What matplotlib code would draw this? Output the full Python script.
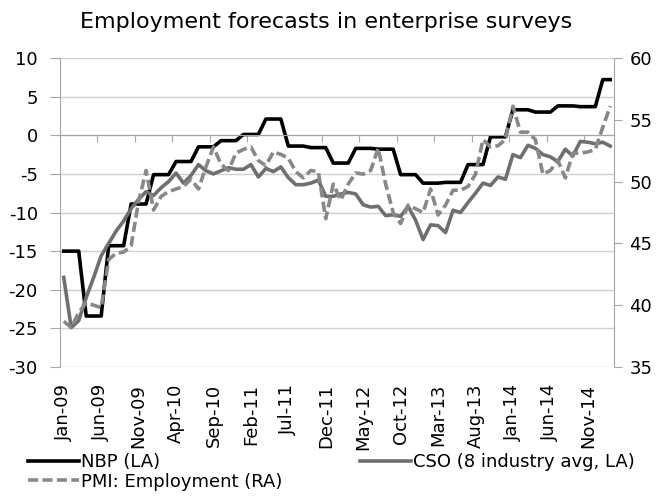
import numpy as np
import pandas as pd
import matplotlib
matplotlib.use("Agg")
import matplotlib.pyplot as plt

plt.rcParams['font.family'] = ['DejaVu Sans']
plt.rcParams['axes.unicode_minus'] = False

# monthly, Jan-09 .. Feb-15
months = pd.date_range('2009-01-01', periods=74, freq='MS').strftime('%b-%y')

# NBP quarterly survey, held for each month of the quarter (left axis)
nbp = [-15.0, -15.0, -15.0, -23.4, -23.4, -23.4, -14.3, -14.3, -14.3,
       -8.9, -8.9, -8.9, -5.1, -5.1, -5.1, -3.4, -3.4, -3.4,
       -1.5, -1.5, -1.5, -0.7, -0.7, -0.7, 0.1, 0.1, 0.1,
       2.1, 2.1, 2.1, -1.4, -1.4, -1.4, -1.6, -1.6, -1.6,
       -3.6, -3.6, -3.6, -1.7, -1.7, -1.7, -1.8, -1.8, -1.8,
       -5.1, -5.1, -5.1, -6.2, -6.2, -6.2, -6.1, -6.1, -6.1,
       -3.8, -3.8, -3.8, -0.2, -0.2, -0.2, 3.3, 3.3, 3.3,
       3.0, 3.0, 3.0, 3.8, 3.8, 3.8, 3.7, 3.7, 3.7,
       7.2, 7.2]

# CSO, average of 8 industries (left axis)
cso = [-18.4, -24.9, -24.0, -21.0, -18.4, -15.6, -14.0, -12.4, -11.1, -9.5,
       -8.3, -7.3, -7.8, -6.8, -6.0, -4.9, -6.2, -5.2, -3.8, -4.6,
       -5.0, -4.6, -4.2, -4.4, -4.4, -3.8, -5.4, -4.3, -4.7, -4.1,
       -5.5, -6.4, -6.4, -6.2, -5.8, -7.9, -7.9, -7.6, -7.4, -7.6,
       -9.0, -9.3, -9.2, -10.4, -10.3, -10.5, -9.2, -11.0, -13.5, -11.6,
       -11.7, -12.6, -9.7, -10.0, -8.7, -7.5, -6.2, -6.5, -5.4, -5.7,
       -2.5, -2.9, -1.3, -1.7, -2.5, -2.8, -3.4, -1.8, -2.7, -0.8,
       -0.9, -1.1, -0.9, -1.4]

# PMI employment index (right axis)
pmi = [38.7, 38.2, 39.4, 40.2, 40.0, 39.8, 43.7, 44.2, 44.3, 44.8,
       48.4, 50.9, 47.7, 48.8, 49.2, 49.4, 49.6, 50.2, 49.4, 51.2,
       52.8, 51.4, 50.9, 52.3, 52.6, 52.8, 51.7, 51.3, 52.4, 52.2,
       51.9, 50.8, 50.3, 50.9, 50.8, 47.0, 49.8, 48.5, 49.8, 50.7,
       50.6, 50.9, 52.7, 49.8, 47.5, 46.6, 48.1, 47.8, 47.5, 49.4,
       47.3, 48.1, 49.3, 49.3, 49.6, 50.6, 53.4, 52.8, 52.9, 53.4,
       56.1, 54.0, 54.0, 53.4, 50.6, 50.9, 51.7, 50.3, 52.3, 52.3,
       52.4, 52.6, 54.4, 56.1]

x = np.arange(len(months))
axis_grey = '#a6a6a6'

fig = plt.figure(figsize=(6.58, 4.97), dpi=100)
ax = fig.add_axes([60/658, 130/497, 554/658, 309/497])
ax2 = ax.twinx()

l1, = ax.plot(x, nbp, color='black', lw=2.6)
l2, = ax.plot(x, cso, color='#6f6f6f', lw=2.6)
l3, = ax2.plot(x, pmi, color='#888888', lw=2.6, dashes=(2.8, 1.2))

ax.set_xlim(-0.5, len(months) - 0.5)
ax.set_ylim(-30, 10)
ax2.set_ylim(35, 60)
ax.set_yticks(range(-30, 11, 5))
ax2.set_yticks(range(35, 61, 5))
ax.grid(axis='y', color='#d0d0d0', lw=1)
ax.set_axisbelow(True)

for s in ['top', 'right']:
    ax.spines[s].set_visible(False)
for s in ['top', 'left', 'bottom']:
    ax2.spines[s].set_visible(False)
ax.spines['left'].set_color(axis_grey)
ax2.spines['right'].set_color(axis_grey)

# category axis crosses at zero, marks between categories
ax.spines['bottom'].set_position(('data', 0))
ax.spines['bottom'].set_color(axis_grey)
ax.set_xticks(np.arange(-0.5, len(months), 5))
ax.tick_params(axis='x', length=5, color=axis_grey, labelbottom=False)

# month labels sit below the plot area
sec = ax.secondary_xaxis('bottom')
sec.set_xticks(x[::5], labels=months[::5])
sec.tick_params(length=0, labelrotation=90, labelsize=13, pad=12)
sec.spines['bottom'].set_visible(False)

ax.tick_params(axis='y', length=7, color=axis_grey, labelsize=13, pad=9)
ax2.tick_params(axis='y', length=6, color=axis_grey, labelsize=13, pad=5)

fig.text(0.495, 1 - 22/497, 'Employment forecasts in enterprise surveys',
         ha='center', va='center', fontsize=16)

leg_kw = dict(frameon=False, fontsize=13, handlelength=2.8, handletextpad=0.15,
              borderpad=0, borderaxespad=0, labelspacing=0.1)
fig.legend([l1, l3], ['NBP (LA)', 'PMI: Employment (RA)'], loc='upper left',
           bbox_to_anchor=(28/658, 1 - 453/497), **leg_kw)
fig.legend([l2], ['CSO (8 industry avg, LA)'], loc='upper left',
           bbox_to_anchor=(360/658, 1 - 453/497), **leg_kw)

fig.savefig('out.png', dpi=100)
